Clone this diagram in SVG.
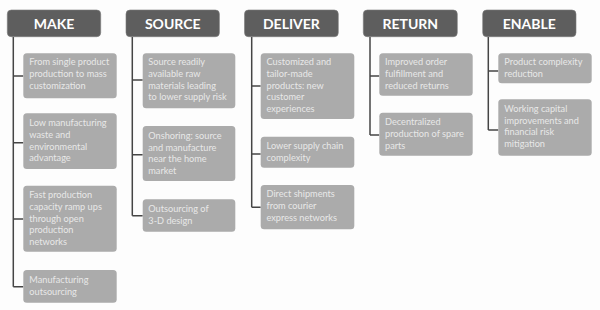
<svg xmlns="http://www.w3.org/2000/svg" width="600" height="310" viewBox="0 0 600 310">
<style>
.hdr{fill:#5e5e5e;stroke:#7a7a7a;stroke-width:0.6}
.ht{font-family:Lato,"Open Sans",sans-serif;font-weight:bold;font-size:14px;fill:#ffffff;text-anchor:middle}
.box{fill:#ababab}
.bt{font-family:Lato,"Liberation Sans",sans-serif;font-size:9.2px;fill:#e8e8e8}
.ln{stroke:#454545;stroke-width:1.5;fill:none}
</style>
<rect width="600" height="310" fill="#fdfdfd"/>
<g id="connectors">
<path class="ln" d="M13.3 37V286.7M13.3 76H23.3M13.3 142.7H23.3M13.3 219H23.3M13.3 286.7H23.3"/>
<path class="ln" d="M132.3 37V215.7M132.3 80H142.7M132.3 154.7H142.7M132.3 215.7H142.7"/>
<path class="ln" d="M251.7 37V207.3M251.7 86H260.7M251.7 154H260.7M251.7 207.3H260.7"/>
<path class="ln" d="M370 37V135M370 76H379.3M370 135H379.3"/>
<path class="ln" d="M488.3 37V130M488.3 71H498.3M488.3 130H498.3"/>
</g>
<g id="make">
<rect class="hdr" x="7.3" y="10" width="93.4" height="26.7" rx="4"/>
<text class="ht" x="54" y="28.5">MAKE</text>
</g>
<g id="make-1"><rect class="box" x="23.3" y="53.3" width="93.4" height="45" rx="3.5"/>
<text class="bt" x="29.3" y="65.3"><tspan x="29.3">From single product</tspan><tspan x="29.3" dy="11.7">production to mass</tspan><tspan x="29.3" dy="11.7">customization</tspan></text></g>
<g id="make-2"><rect class="box" x="23.3" y="113.3" width="93.4" height="55.7" rx="3.5"/>
<text class="bt" x="29.3" y="126.3"><tspan x="29.3">Low manufacturing</tspan><tspan x="29.3" dy="11.7">waste and</tspan><tspan x="29.3" dy="11.7">environmental</tspan><tspan x="29.3" dy="11.7">advantage</tspan></text></g>
<g id="make-3"><rect class="box" x="23.3" y="185.7" width="93.4" height="66" rx="3.5"/>
<text class="bt" x="29.3" y="198.3"><tspan x="29.3">Fast production</tspan><tspan x="29.3" dy="11.7">capacity ramp ups</tspan><tspan x="29.3" dy="11.7">through open</tspan><tspan x="29.3" dy="11.7">production</tspan><tspan x="29.3" dy="11.7">networks</tspan></text></g>
<g id="make-4"><rect class="box" x="23.3" y="270" width="93.4" height="32.7" rx="3.5"/>
<text class="bt" x="29.3" y="283"><tspan x="29.3">Manufacturing</tspan><tspan x="29.3" dy="11.7">outsourcing</tspan></text></g>

<g id="source">
<rect class="hdr" x="126" y="10" width="93.4" height="26.7" rx="4"/>
<text class="ht" x="172.7" y="28.5">SOURCE</text>
</g>
<g id="source-1"><rect class="box" x="142.7" y="53.3" width="92.6" height="55" rx="3.5"/>
<text class="bt" x="148.3" y="65.3"><tspan x="148.3">Source readily</tspan><tspan x="148.3" dy="11.7">available raw</tspan><tspan x="148.3" dy="11.7">materials leading</tspan><tspan x="148.3" dy="11.7">to lower supply risk</tspan></text></g>
<g id="source-2"><rect class="box" x="142.7" y="126" width="92.6" height="55" rx="3.5"/>
<text class="bt" x="148.3" y="139"><tspan x="148.3">Onshoring: source</tspan><tspan x="148.3" dy="11.7">and manufacture</tspan><tspan x="148.3" dy="11.7">near the home</tspan><tspan x="148.3" dy="11.7">market</tspan></text></g>
<g id="source-3"><rect class="box" x="142.7" y="199.3" width="92.6" height="32.4" rx="3.5"/>
<text class="bt" x="148.3" y="211.8"><tspan x="148.3">Outsourcing of</tspan><tspan x="148.3" dy="11.7">3-D design</tspan></text></g>

<g id="deliver">
<rect class="hdr" x="244.5" y="10" width="93.8" height="26.7" rx="4"/>
<text class="ht" x="291.4" y="28.5">DELIVER</text>
</g>
<g id="deliver-1"><rect class="box" x="260.7" y="53.3" width="93.6" height="65.7" rx="3.5"/>
<text class="bt" x="266.5" y="65.3"><tspan x="266.5">Customized and</tspan><tspan x="266.5" dy="11.7">tailor-made</tspan><tspan x="266.5" dy="11.7">products: new</tspan><tspan x="266.5" dy="11.7">customer</tspan><tspan x="266.5" dy="11.7">experiences</tspan></text></g>
<g id="deliver-2"><rect class="box" x="260.7" y="136.7" width="93.6" height="31" rx="3.5"/>
<text class="bt" x="266.5" y="148.8"><tspan x="266.5">Lower supply chain</tspan><tspan x="266.5" dy="11.7">complexity</tspan></text></g>
<g id="deliver-3"><rect class="box" x="260.7" y="185" width="93.6" height="44.3" rx="3.5"/>
<text class="bt" x="266.5" y="197.3"><tspan x="266.5">Direct shipments</tspan><tspan x="266.5" dy="11.7">from courier</tspan><tspan x="266.5" dy="11.7">express networks</tspan></text></g>

<g id="return">
<rect class="hdr" x="363.3" y="10" width="94" height="26.7" rx="4"/>
<text class="ht" x="410.3" y="28.5">RETURN</text>
</g>
<g id="return-1"><rect class="box" x="379.3" y="53.3" width="93.4" height="42.4" rx="3.5"/>
<text class="bt" x="385" y="65.3"><tspan x="385">Improved order</tspan><tspan x="385" dy="11.7">fulfillment and</tspan><tspan x="385" dy="11.7">reduced returns</tspan></text></g>
<g id="return-2"><rect class="box" x="379.3" y="112.7" width="93.4" height="43" rx="3.5"/>
<text class="bt" x="385" y="125.3"><tspan x="385">Decentralized</tspan><tspan x="385" dy="11.7">production of spare</tspan><tspan x="385" dy="11.7">parts</tspan></text></g>

<g id="enable">
<rect class="hdr" x="482.7" y="10" width="93.3" height="26.7" rx="4"/>
<text class="ht" x="529.3" y="28.5">ENABLE</text>
</g>
<g id="enable-1"><rect class="box" x="498.3" y="53.3" width="93.4" height="30" rx="3.5"/>
<text class="bt" x="504.3" y="65.3"><tspan x="504.3">Product complexity</tspan><tspan x="504.3" dy="11.7">reduction</tspan></text></g>
<g id="enable-2"><rect class="box" x="498.3" y="99.3" width="93.4" height="56.4" rx="3.5"/>
<text class="bt" x="504.3" y="112"><tspan x="504.3">Working capital</tspan><tspan x="504.3" dy="11.7">improvements and</tspan><tspan x="504.3" dy="11.7">financial risk</tspan><tspan x="504.3" dy="11.7">mitigation</tspan></text></g>
</svg>
